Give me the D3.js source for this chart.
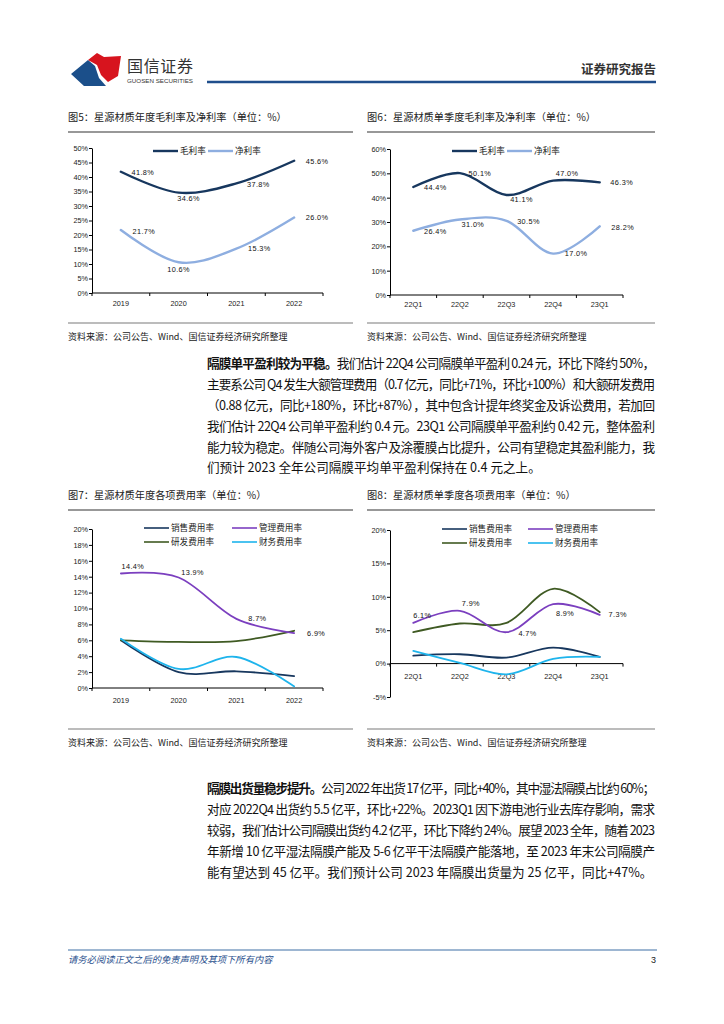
<!DOCTYPE html>
<html>
<head>
<meta charset="utf-8">
<script src="https://cdn.jsdelivr.net/npm/d3@7"></script>
<style>
  html, body { margin: 0; padding: 0; background: #fff; }
  svg { display: block; }
  text { font-family: "Liberation Sans", "Noto Sans CJK SC", sans-serif; }
  .cjk { font-family: "Noto Sans CJK SC", sans-serif; }
</style>
</head>
<body>
<svg id="page" width="724" height="1024"></svg>
<script>
// ---- data ----
const yearCats = ["2019", "2020", "2021", "2022"];
const quarterCats = ["22Q1", "22Q2", "22Q3", "22Q4", "23Q1"];

const grossAnnual = [41.8, 34.6, 37.8, 45.6];
const netAnnual = [21.7, 10.6, 15.3, 26.0];
const grossQuarter = [44.4, 50.1, 41.1, 47.0, 46.3];
const netQuarter = [26.4, 31.0, 30.5, 17.0, 28.2];

const salesAnnual = [6.0, 2.0, 2.1, 1.5];
const adminAnnual = [14.4, 13.9, 8.7, 6.9];
const rdAnnual = [6.0, 5.8, 5.9, 7.2];
const finAnnual = [6.2, 2.4, 3.9, 0.2];

const salesQuarter = [1.2, 1.4, 0.9, 2.4, 1.0];
const adminQuarter = [6.1, 7.9, 4.7, 8.9, 7.3];
const rdQuarter = [4.7, 6.0, 6.1, 11.2, 7.7];
const finQuarter = [1.9, 0.1, -1.6, 0.7, 1.0];

const marginTicks = [0, 5, 10, 15, 20, 25, 30, 35, 40, 45, 50];
const marginTicksQ = [0, 10, 20, 30, 40, 50, 60];
const expenseTicks = [0, 2, 4, 6, 8, 10, 12, 14, 16, 18, 20];
const expenseTicksQ = [-5, 0, 5, 10, 15, 20];

const marginNames = ["毛利率", "净利率"];
const expenseNames = ["销售费用率", "管理费用率", "研发费用率", "财务费用率"];

const sourceText = "资料来源：公司公告、Wind、国信证券经济研究所整理";

// ---- colours ----
const navy = "#17375e";
const lightBlue = "#8eaee0";
const purple = "#7b3fbf";
const olive = "#3f5a23";
const cyan = "#1eb4ec";

const svg = d3.select("#page");

// ---- header ----
const header = svg.append("g");
header.append("path")
    .attr("d", "M71,74 L88,60 L95,66 L99,78 L106,86 L84,86 Z")
    .attr("fill", "#1b4f8a");
header.append("path")
    .attr("d", "M88,60 L97,53 L104,57 L121,56 L118,76 L108,82 L101,75 L97,65 Z")
    .attr("fill", "#d7141e");
header.append("text")
    .attr("class", "cjk")
    .attr("x", 127).attr("y", 72)
    .attr("font-size", 16).attr("fill", "#333")
    .attr("textLength", 66)
    .text("国信证券");
header.append("text")
    .attr("x", 127).attr("y", 83)
    .attr("font-size", 6.2).attr("fill", "#333")
    .attr("textLength", 66).attr("lengthAdjust", "spacingAndGlyphs")
    .text("GUOSEN SECURITIES");
header.append("text")
    .attr("class", "cjk")
    .attr("x", 656).attr("y", 74)
    .attr("text-anchor", "end")
    .attr("font-size", 12.5).attr("font-weight", "bold").attr("fill", "#333")
    .text("证券研究报告");
header.append("line")
    .attr("x1", 207).attr("x2", 656).attr("y1", 82).attr("y2", 82)
    .attr("stroke", "#1f4e8c").attr("stroke-width", 2.5);

// ---- chart helper ----
function drawChart(o) {
    const g = svg.append("g");

    // title + rule under it
    g.append("text")
        .attr("class", "cjk")
        .attr("x", o.left).attr("y", o.titleY)
        .attr("font-size", 10.2).attr("fill", "#222")
        .text(o.title);
    g.append("line")
        .attr("x1", o.left).attr("x2", o.right)
        .attr("y1", o.titleY + 11).attr("y2", o.titleY + 11)
        .attr("stroke", "#333").attr("stroke-width", 1.2);

    const x = d3.scaleBand().domain(o.cats).range([o.x0, o.x1]);
    const cx = c => x(c) + x.bandwidth() / 2;
    const y = d3.scaleLinear().domain(o.domain).range([o.yBottom, o.yTop]);

    // y axis
    const ya = g.append("g")
        .attr("transform", `translate(${o.x0},0)`)
        .call(d3.axisLeft(y).tickValues(o.ticks).tickSize(3).tickSizeOuter(0).tickFormat(d => d + "%"));
    ya.select(".domain").attr("stroke", "#000");
    ya.selectAll(".tick line").attr("stroke", "#000");
    ya.selectAll(".tick text")
        .attr("font-family", "Liberation Sans, sans-serif")
        .attr("font-size", 7.3).attr("fill", "#222").attr("x", -4);

    // x axis sits on the zero line
    const y0 = y(0);
    g.append("line")
        .attr("x1", o.x0).attr("x2", o.x1).attr("y1", y0).attr("y2", y0)
        .attr("stroke", "#000");
    g.selectAll("line.xtick")
        .data(o.cats.map(c => x(c)).concat([o.x1]))
        .join("line")
        .attr("class", "xtick")
        .attr("x1", d => d).attr("x2", d => d)
        .attr("y1", y0).attr("y2", y0 + 3)
        .attr("stroke", "#000");
    g.selectAll("text.xlab")
        .data(o.cats)
        .join("text")
        .attr("class", "xlab")
        .attr("x", cx).attr("y", y0 + o.xLabelDy)
        .attr("dy", "0.35em")
        .attr("text-anchor", "middle")
        .attr("font-size", 7.3).attr("fill", "#222")
        .text(d => d);

    // smoothed series
    const line = d3.line()
        .x((d, i) => cx(o.cats[i]))
        .y(d => y(d))
        .curve(d3.curveCardinal.tension(0));

    o.series.forEach(s => {
        g.append("path")
            .attr("d", line(s.values))
            .attr("fill", "none")
            .attr("stroke", s.color)
            .attr("stroke-width", s.width || 2.2)
            .attr("stroke-linecap", "round");
        if (s.labelOffsets) {
            g.selectAll(null)
                .data(s.values)
                .join("text")
                .attr("x", (d, i) => cx(o.cats[i]) + s.labelOffsets[i][0])
                .attr("y", (d, i) => y(d) + s.labelOffsets[i][1])
                .attr("dy", "0.35em")
                .attr("text-anchor", "middle")
                .attr("font-size", 7.3)
                .attr("letter-spacing", 0.4)
                .attr("fill", "#111")
                .text(d => d.toFixed(1) + "%");
        }
    });

    // legend
    o.legend.forEach(l => {
        g.append("line")
            .attr("x1", l.x).attr("x2", l.x + 25)
            .attr("y1", l.y).attr("y2", l.y)
            .attr("stroke", l.color).attr("stroke-width", l.width || 2.2);
        g.append("text")
            .attr("class", "cjk")
            .attr("x", l.x + 27).attr("y", l.y)
            .attr("dy", "0.35em")
            .attr("font-size", 8.6).attr("fill", "#222")
            .text(l.name);
    });

    // source rule + text
    g.append("line")
        .attr("x1", o.left).attr("x2", o.right)
        .attr("y1", o.sourceY - 14).attr("y2", o.sourceY - 14)
        .attr("stroke", "#a6a6a6").attr("stroke-width", 1.6);
    g.append("text")
        .attr("class", "cjk")
        .attr("x", o.left).attr("y", o.sourceY)
        .attr("dy", "0.35em")
        .attr("font-size", 9).attr("fill", "#222")
        .text(sourceText);
}

// figure 5
drawChart({
    title: "图5：星源材质年度毛利率及净利率（单位：%）",
    left: 68, right: 353, titleY: 121,
    cats: yearCats, x0: 92, x1: 323,
    domain: [0, 50], ticks: marginTicks, yTop: 148, yBottom: 293,
    xLabelDy: 10, sourceY: 337,
    series: [
        { values: grossAnnual, color: navy, width: 2.4,
          labelOffsets: [[22, 1], [10, 6], [22, 1], [23, 1]] },
        { values: netAnnual, color: lightBlue, width: 2.4,
          labelOffsets: [[23, 1], [0, 7], [23, 0], [23, 0]] }
    ],
    legend: [
        { name: marginNames[0], color: navy, x: 153, y: 151, width: 2.4 },
        { name: marginNames[1], color: lightBlue, x: 208, y: 151, width: 2.4 }
    ]
});

// figure 6
drawChart({
    title: "图6：星源材质单季度毛利率及净利率（单位：%）",
    left: 367, right: 655, titleY: 121,
    cats: quarterCats, x0: 390, x1: 623,
    domain: [0, 60], ticks: marginTicksQ, yTop: 149, yBottom: 295,
    xLabelDy: 9, sourceY: 337,
    series: [
        { values: grossQuarter, color: navy, width: 2.4,
          labelOffsets: [[22, 0], [20, 0], [15, 4], [14, -7], [22, 0]] },
        { values: netQuarter, color: lightBlue, width: 2.4,
          labelOffsets: [[22, 1], [13, 5], [22, 1], [23, 0], [23, 1]] }
    ],
    legend: [
        { name: marginNames[0], color: navy, x: 452, y: 151, width: 2.4 },
        { name: marginNames[1], color: lightBlue, x: 507, y: 151, width: 2.4 }
    ]
});

// figure 7
drawChart({
    title: "图7：星源材质年度各项费用率（单位：%）",
    left: 68, right: 353, titleY: 499,
    cats: yearCats, x0: 92, x1: 323,
    domain: [0, 20], ticks: expenseTicks, yTop: 529, yBottom: 688,
    xLabelDy: 12, sourceY: 743,
    series: [
        { values: salesAnnual, color: navy, width: 1.8 },
        { values: rdAnnual, color: olive, width: 1.8 },
        { values: finAnnual, color: cyan, width: 1.8 },
        { values: adminAnnual, color: purple, width: 1.8,
          labelOffsets: [[12, -7], [14, -5], [21, 0], [22, 0]] }
    ],
    legend: [
        { name: expenseNames[0], color: navy, x: 144, y: 528, width: 1.6 },
        { name: expenseNames[1], color: purple, x: 232, y: 528, width: 1.6 },
        { name: expenseNames[2], color: olive, x: 144, y: 542, width: 1.6 },
        { name: expenseNames[3], color: cyan, x: 232, y: 542, width: 1.6 }
    ]
});

// figure 8
drawChart({
    title: "图8：星源材质单季度各项费用率（单位：%）",
    left: 367, right: 655, titleY: 499,
    cats: quarterCats, x0: 390, x1: 623,
    domain: [-5, 20], ticks: expenseTicksQ, yTop: 530, yBottom: 697,
    xLabelDy: 13, sourceY: 743,
    series: [
        { values: salesQuarter, color: navy, width: 1.8 },
        { values: rdQuarter, color: olive, width: 1.8 },
        { values: finQuarter, color: cyan, width: 1.8 },
        { values: adminQuarter, color: purple, width: 1.8,
          labelOffsets: [[9, -7], [11, -7], [21, 1], [12, 9], [18, 0]] }
    ],
    legend: [
        { name: expenseNames[0], color: navy, x: 442, y: 529, width: 1.6 },
        { name: expenseNames[1], color: purple, x: 528, y: 529, width: 1.6 },
        { name: expenseNames[2], color: olive, x: 442, y: 543, width: 1.6 },
        { name: expenseNames[3], color: cyan, x: 528, y: 543, width: 1.6 }
    ]
});

// ---- body text ----
const para1 = [
    ["隔膜单平盈利较为平稳。", "我们估计 22Q4 公司隔膜单平盈利 0.24 元，环比下降约 50%，"],
    ["", "主要系公司 Q4 发生大额管理费用（0.7 亿元，同比+71%，环比+100%）和大额研发费用"],
    ["", "（0.88 亿元，同比+180%，环比+87%），其中包含计提年终奖金及诉讼费用，若加回"],
    ["", "我们估计 22Q4 公司单平盈利约 0.4 元。23Q1 公司隔膜单平盈利约 0.42 元，整体盈利"],
    ["", "能力较为稳定。伴随公司海外客户及涂覆膜占比提升，公司有望稳定其盈利能力，我"],
    ["", "们预计 2023 全年公司隔膜平均单平盈利保持在 0.4 元之上。"]
];
const para2 = [
    ["隔膜出货量稳步提升。", "公司 2022 年出货 17 亿平，同比+40%，其中湿法隔膜占比约 60%；"],
    ["", "对应 2022Q4 出货约 5.5 亿平，环比+22%。2023Q1 因下游电池行业去库存影响，需求"],
    ["", "较弱，我们估计公司隔膜出货约 4.2 亿平，环比下降约 24%。展望 2023 全年，随着 2023"],
    ["", "年新增 10 亿平湿法隔膜产能及 5-6 亿平干法隔膜产能落地，至 2023 年末公司隔膜产"],
    ["", "能有望达到 45 亿平。我们预计公司 2023 年隔膜出货量为 25 亿平，同比+47%。"]
];

function drawParagraph(lines, top) {
    lines.forEach((ln, i) => {
        const t = svg.append("text")
            .attr("class", "cjk")
            .attr("x", 207).attr("y", top + i * 20.8)
            .attr("dy", "0.35em")
            .attr("font-size", 12.6).attr("fill", "#111");
        if (i < lines.length - 1) t.attr("textLength", 448).attr("lengthAdjust", "spacing");
        if (ln[0]) t.append("tspan").attr("font-weight", "bold").text(ln[0]);
        t.append("tspan").text(ln[1]);
    });
}
drawParagraph(para1, 364);
drawParagraph(para2, 789);

// ---- footer ----
svg.append("line")
    .attr("x1", 68).attr("x2", 657).attr("y1", 950).attr("y2", 950)
    .attr("stroke", "#3c6ea5").attr("stroke-width", 1);
svg.append("text")
    .attr("class", "cjk")
    .attr("x", 68).attr("y", 960).attr("dy", "0.35em")
    .attr("font-size", 9.3).attr("font-style", "italic").attr("fill", "#1f4e8c")
    .text("请务必阅读正文之后的免责声明及其项下所有内容");
svg.append("text")
    .attr("x", 656).attr("y", 960).attr("dy", "0.35em")
    .attr("text-anchor", "end")
    .attr("font-size", 9).attr("fill", "#222")
    .text("3");
</script>
</body>
</html>
